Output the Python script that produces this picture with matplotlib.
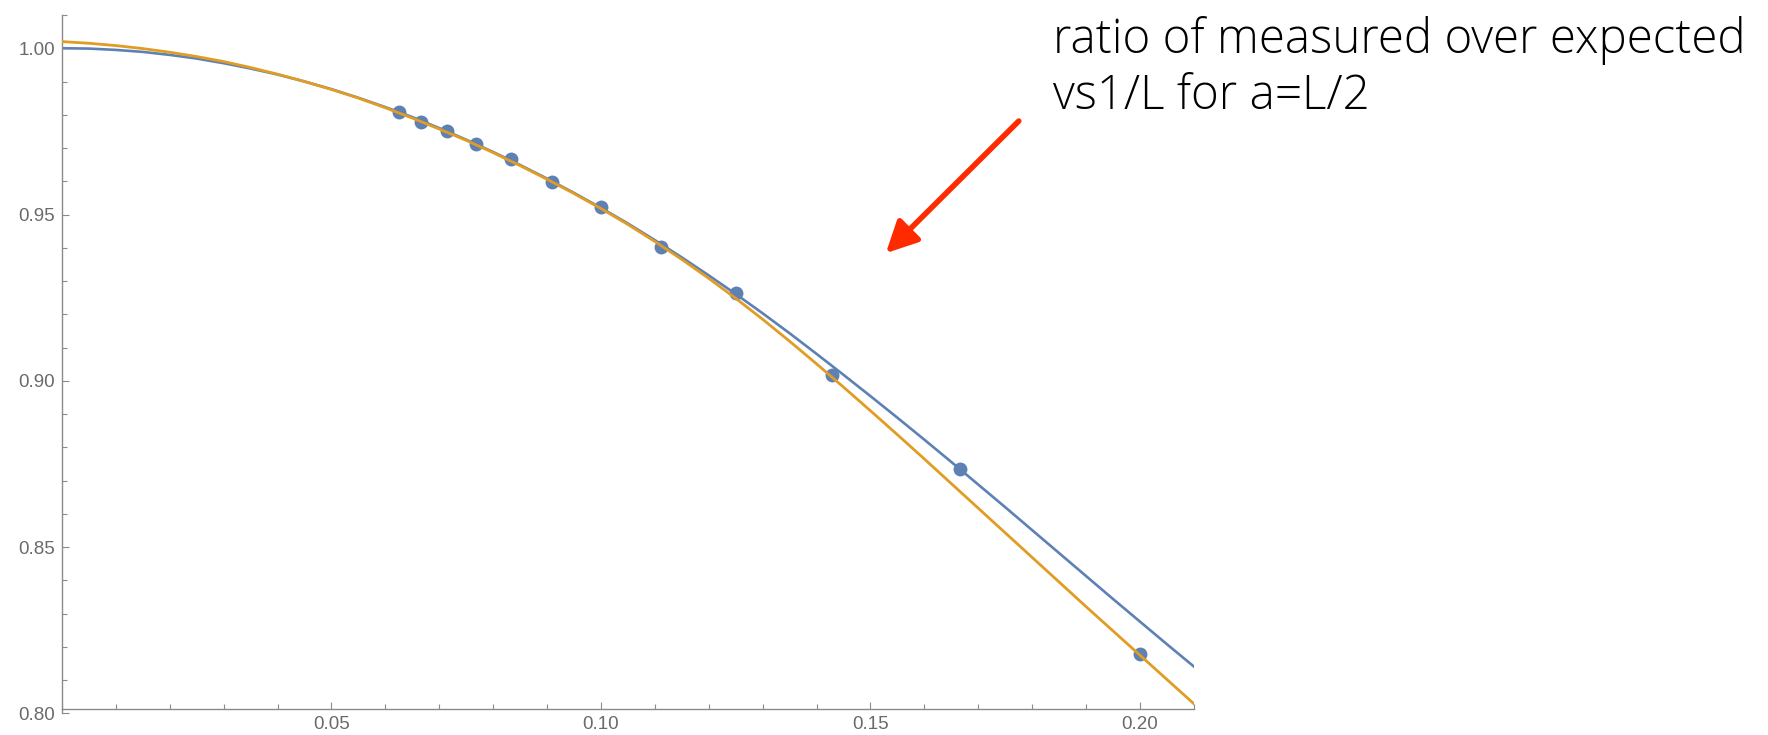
import matplotlib.pyplot as plt
from matplotlib.ticker import MultipleLocator

# measured ratio at x = 1/L, L = 16 ... 5
inv_L = [0.0625, 0.0667, 0.0714, 0.0769, 0.0833, 0.0909, 0.1000, 0.1111, 0.1250, 0.1429, 0.1667, 0.2000]
ratio = [0.9809, 0.9779, 0.9752, 0.9712, 0.9666, 0.9597, 0.9522, 0.9402, 0.9263, 0.9016, 0.8734, 0.8177]

curve_x = [0.000, 0.005, 0.010, 0.015, 0.020, 0.025, 0.030, 0.035, 0.040, 0.045,
           0.050, 0.055, 0.060, 0.065, 0.070, 0.075, 0.080, 0.085, 0.090, 0.095,
           0.100, 0.105, 0.110, 0.115, 0.120, 0.125, 0.130, 0.135, 0.140, 0.145,
           0.150, 0.155, 0.160, 0.165, 0.170, 0.175, 0.180, 0.185, 0.190, 0.195,
           0.200, 0.205, 0.210]
blue_fit = [1.0000, 0.9999, 0.9995, 0.9989, 0.9980, 0.9969, 0.9955, 0.9939, 0.9921, 0.9900,
            0.9877, 0.9851, 0.9823, 0.9793, 0.9760, 0.9725, 0.9688, 0.9649, 0.9608, 0.9565,
            0.9520, 0.9473, 0.9423, 0.9371, 0.9317, 0.9261, 0.9203, 0.9143, 0.9081, 0.9018,
            0.8954, 0.8889, 0.8823, 0.8756, 0.8688, 0.8620, 0.8551, 0.8482, 0.8413, 0.8344,
            0.8276, 0.8208, 0.8141]
orange_fit = [1.0020, 1.0015, 1.0008, 0.9999, 0.9988, 0.9975, 0.9960, 0.9942, 0.9922, 0.9900,
              0.9876, 0.9850, 0.9821, 0.9790, 0.9757, 0.9723, 0.9686, 0.9647, 0.9606, 0.9563,
              0.9518, 0.9470, 0.9419, 0.9365, 0.9308, 0.9248, 0.9185, 0.9119, 0.9051, 0.8981,
              0.8910, 0.8838, 0.8765, 0.8691, 0.8617, 0.8543, 0.8469, 0.8395, 0.8321, 0.8248,
              0.8175, 0.8102, 0.8029]

x_ticks = [0.05, 0.10, 0.15, 0.20]
y_ticks = [0.80, 0.85, 0.90, 0.95, 1.00]

blue = "#5E81B5"
orange = "#E19C24"
axis_col = "#8a8a8a"
label_col = "#6a6a6a"

fig = plt.figure(figsize=(17.68, 7.35), dpi=100)
ax = fig.add_axes([62 / 1768, (735 - 713.3) / 735, (1194.3 - 62) / 1768, (713.3 - 15) / 735])

ax.plot(curve_x, blue_fit, color=blue, lw=1.9, zorder=2)
ax.plot(inv_L, ratio, "o", color=blue, ms=10, mec="none", zorder=3)
ax.plot(curve_x, orange_fit, color=orange, lw=2.0, zorder=4)

ax.set_xlim(0, 0.2101)
ax.set_ylim(0.80, 1.010)

for s in ["top", "right"]:
    ax.spines[s].set_visible(False)
ax.spines["bottom"].set_position(("data", 0.8013))
for s in ["left", "bottom"]:
    ax.spines[s].set_color(axis_col)
    ax.spines[s].set_linewidth(1.0)

ax.set_xticks(x_ticks)
ax.set_xticklabels([f"{v:.2f}" for v in x_ticks])
ax.set_yticks(y_ticks)
ax.set_yticklabels([f"{v:.2f}" for v in y_ticks])
ax.xaxis.set_minor_locator(MultipleLocator(0.01))
ax.yaxis.set_minor_locator(MultipleLocator(0.01))
ax.tick_params(which="both", direction="in", color=axis_col, width=0.8,
               labelcolor=label_col, labelsize=13.5)
ax.tick_params(which="major", length=5.2)
ax.tick_params(which="minor", length=3.3)
ax.tick_params(axis="y", pad=5)
ax.tick_params(axis="x", pad=5)
for lab in ax.get_xticklabels() + ax.get_yticklabels():
    lab.set_fontfamily("Liberation Sans")

# note and red arrow
note = ["ratio of measured over expected", "vs1/L for a=L/2"]
for i, line in enumerate(note):
    fig.text(1053 / 1768, 1 - (53 + 56 * i) / 735, line,
             fontsize=34.2, fontfamily="Open Sans", fontweight="light", color="black",
             ha="left", va="baseline")
ax.annotate("", xy=(0.1525, 0.9378), xytext=(0.1779, 0.9787), annotation_clip=False,
            arrowprops=dict(arrowstyle="-|>,head_length=1.9,head_width=0.95",
                            color="#FF2A00", lw=4))

fig.savefig("out.png", dpi=100)
